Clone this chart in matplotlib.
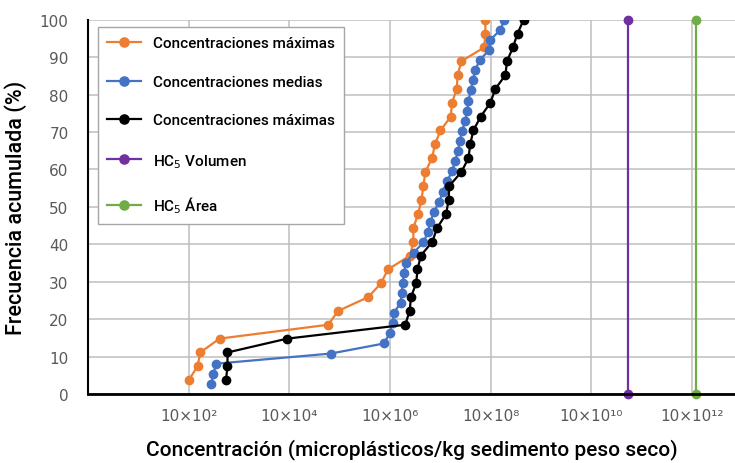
import numpy as np
import matplotlib
matplotlib.use('Agg')
import matplotlib.pyplot as plt

# datos
frec_27 = [3.7, 7.4, 11.1, 14.8, 18.5, 22.2, 25.9, 29.6, 33.3, 37.0, 40.7, 44.4, 48.1, 51.9,
           55.6, 59.3, 63.0, 66.7, 70.4, 74.1, 77.8, 81.5, 85.2, 88.9, 92.6, 96.3, 100.0]
frec_37 = [2.7, 5.4, 8.1, 10.8, 13.5, 16.2, 18.9, 21.6, 24.3, 27.0, 29.7, 32.4, 35.1, 37.8,
           40.5, 43.2, 45.9, 48.6, 51.4, 54.1, 56.8, 59.5, 62.2, 64.9, 67.6, 70.3, 73.0, 75.7,
           78.4, 81.1, 83.8, 86.5, 89.2, 91.9, 94.6, 97.3, 100.0]

conc_max_1 = [1.0e3, 1.5e3, 1.7e3, 4.1e3, 5.9e5, 9.3e5, 3.7e6, 6.6e6, 9.1e6, 2.5e7, 2.9e7, 2.9e7,
              3.6e7, 4.2e7, 4.6e7, 5.0e7, 6.8e7, 7.8e7, 1.0e8, 1.6e8, 1.7e8, 2.1e8, 2.2e8, 2.6e8,
              7.4e8, 7.8e8, 7.8e8]
conc_medias = [2.8e3, 3.1e3, 3.5e3, 6.6e5, 7.6e6, 9.8e6, 1.12e7, 1.17e7, 1.62e7, 1.70e7, 1.78e7,
               1.86e7, 2.1e7, 2.95e7, 4.6e7, 5.6e7, 6.3e7, 7.4e7, 9.5e7, 1.12e8, 1.35e8, 1.7e8,
               1.95e8, 2.24e8, 2.4e8, 2.7e8, 3.1e8, 3.4e8, 3.6e8, 4.0e8, 4.4e8, 4.9e8, 6.0e8,
               9.3e8, 9.8e8, 1.55e9, 1.86e9]
conc_max_2 = [5.5e3, 5.9e3, 5.9e3, 9.1e4, 2.0e7, 2.45e7, 2.6e7, 3.3e7, 3.5e7, 4.1e7, 6.9e7, 8.6e7,
              1.3e8, 1.45e8, 1.5e8, 2.6e8, 3.6e8, 3.9e8, 4.5e8, 6.3e8, 9.8e8, 1.23e9, 1.95e9,
              2.1e9, 2.75e9, 3.4e9, 4.5e9]

hc5_volumen = 5.4e11
hc5_area = 1.2e13
hc5_frec = [0, 100]

ticks_x = [1e3, 1e5, 1e7, 1e9, 1e11, 1e13]
etiquetas_x = ['10×10²', '10×10⁴', '10×10⁶', '10×10⁸', '10×10¹⁰', '10×10¹²']
ticks_y = [0, 10, 20, 30, 40, 50, 60, 70, 80, 90, 100]

fig = plt.figure(figsize=(7.35, 4.64), dpi=100)
ax = fig.add_axes([0.1197, 0.1487, 0.8803, 0.8067])

estilo = dict(marker='o', markersize=6, linewidth=1.6)
ax.plot(conc_max_1, frec_27, color='#ED7D31', label='Concentraciones máximas', **estilo)
ax.plot(conc_medias, frec_37, color='#4472C4', label='Concentraciones medias', **estilo)
ax.plot(conc_max_2, frec_27, color='black', label='Concentraciones máximas', **estilo)
ax.plot([hc5_volumen, hc5_volumen], hc5_frec, color='#7030A0', label='HC$_5$ Volumen',
        clip_on=False, **estilo)
ax.plot([hc5_area, hc5_area], hc5_frec, color='#70AD47', label='HC$_5$ Área',
        clip_on=False, **estilo)

ax.set_xscale('log')
ax.set_xlim(1e1, 10 ** 13.85)
ax.set_ylim(0, 100)
ax.set_xticks(ticks_x)
ax.set_xticklabels(etiquetas_x)
ax.minorticks_off()
ax.set_yticks(ticks_y)
ax.tick_params(axis='both', length=0, labelsize=11, colors='#595959')
ax.tick_params(axis='x', pad=10)
ax.tick_params(axis='y', pad=14)

ax.grid(True, color='#BFBFBF', linewidth=1.1)
ax.set_axisbelow(True)
ax.spines['top'].set_visible(False)
ax.spines['right'].set_visible(False)
ax.spines['left'].set_linewidth(1.5)
ax.spines['bottom'].set_linewidth(2)

fuente = 'Roboto'
ax.set_xlabel('Concentración (microplásticos/kg sedimento peso seco)', fontsize=15,
              family=fuente, fontweight='medium', labelpad=11)
ax.set_ylabel('Frecuencia acumulada (%)', fontsize=15.5, family=fuente, fontweight='medium',
              labelpad=9)

leg = ax.legend(loc='upper left', bbox_to_anchor=(0.004, 1.0), labelspacing=1.6,
                handlelength=2.2, borderpad=0.6, fancybox=False, markerscale=1.1,
                framealpha=1, edgecolor='#A6A6A6',
                prop={'family': fuente, 'weight': 'medium', 'size': 11})
leg.get_frame().set_linewidth(1.0)

plt.savefig('out.png', dpi=100)
